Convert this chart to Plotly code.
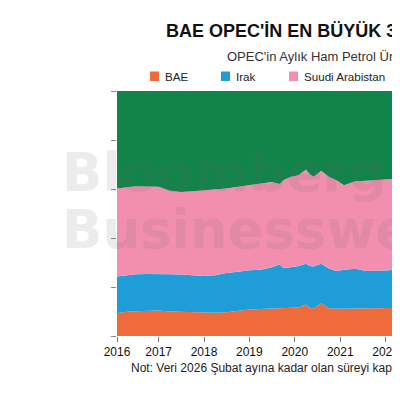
import plotly.graph_objects as go

# Monthly shares of OPEC crude output (%)
dates = [
    "2016-02-01", "2016-04-01", "2016-07-01", "2016-10-01", "2017-01-01",
    "2017-04-01", "2017-07-01", "2017-10-01", "2018-01-01", "2018-04-01",
    "2018-07-01", "2018-10-01", "2019-01-01", "2019-04-01", "2019-07-01",
    "2019-09-01", "2019-10-01", "2019-12-01", "2020-02-01", "2020-04-01",
    "2020-05-01", "2020-06-01", "2020-08-01", "2020-10-01", "2020-12-01",
    "2021-02-01", "2021-05-01", "2021-08-01", "2021-11-01", "2022-02-01",
    "2022-05-01", "2022-08-01", "2022-11-01", "2023-03-01", "2023-07-01",
    "2023-11-01", "2024-03-01", "2024-07-01", "2024-11-01", "2025-03-01",
    "2025-07-01", "2025-11-01", "2026-02-01",
]
bae = [9.3, 9.8, 10.1, 10.3, 10.4, 10.0, 9.8, 9.6, 9.5, 9.5,
       9.7, 10.3, 10.8, 11.0, 11.1, 11.3, 11.2, 11.4, 11.6, 12.9,
       11.5, 11.1, 13.4, 11.3, 11.1, 11.1, 11.2, 11.2, 11.3, 11.4,
       11.5, 11.6, 11.7, 11.8, 12.3, 12.4, 12.4, 12.6, 12.8, 13.0,
       13.4, 13.6, 13.7]
irak = [15.0, 14.8, 15.1, 15.0, 15.0, 15.2, 15.3, 15.3, 15.0, 15.3,
        16.0, 15.9, 16.0, 16.0, 17.0, 17.9, 16.6, 16.7, 17.0, 16.6,
        17.1, 17.3, 16.1, 16.3, 15.4, 15.9, 16.3, 15.3, 15.3, 15.4,
        15.7, 15.7, 15.5, 15.7, 16.6, 16.6, 16.4, 16.2, 15.8, 15.8,
        15.6, 15.6, 15.6]
suudi = [35.9, 36.0, 35.9, 35.7, 35.5, 34.1, 33.7, 34.2, 35.0, 34.8,
         34.5, 34.7, 34.7, 35.2, 34.8, 32.8, 35.8, 36.9, 37.0, 38.5,
         37.4, 36.6, 37.9, 37.4, 37.1, 34.5, 35.7, 36.9, 37.0, 37.2,
         37.1, 37.5, 37.3, 36.9, 33.1, 32.8, 32.8, 32.7, 32.9, 33.0,
         33.6, 33.8, 33.9]
diger = [39.8, 39.4, 38.9, 39.0, 39.1, 40.7, 41.2, 40.9, 40.5, 40.4,
         39.8, 39.1, 38.5, 37.8, 37.1, 38.0, 36.4, 35.0, 34.4, 32.0,
         34.0, 35.0, 32.6, 35.0, 36.4, 38.5, 36.8, 36.6, 36.4, 36.0,
         35.7, 35.2, 35.5, 35.6, 38.0, 38.2, 38.4, 38.5, 38.5, 38.2,
         37.4, 37.0, 36.8]

series_names = ["BAE", "Irak", "Suudi Arabistan", "Diğer"]
series_values = [bae, irak, suudi, diger]
series_colors = ["#F06B3C", "#1E9DD8", "#F38FAE", "#11844A"]

year_ticks = ["2016-02-01", "2017-01-01", "2018-01-01", "2019-01-01",
              "2020-01-01", "2021-01-01", "2022-01-01", "2023-01-01"]
year_labels = ["2016", "2017", "2018", "2019", "2020", "2021", "2022", "2023"]

# pixel layout in screen coords; the page body adds an 8px offset,
# and the original is wider than the window, so its right side is cut
OFF = 8
L, T, B_PX, RIGHT = 117, 91, 336, 400
FIG_W = 400 - OFF
FIG_H = 400 - 2 * OFF
PW = RIGHT - L
PH = B_PX - T


def px_x(px):
    return (px - L) / PW


def px_y(py):
    return (B_PX - py) / PH


fig = go.Figure()
for name, vals, color in zip(series_names, series_values, series_colors):
    fig.add_trace(go.Scatter(
        x=dates, y=vals, name=name,
        mode="lines", stackgroup="one", groupnorm="percent",
        line=dict(width=0, color=color), fillcolor=color,
        showlegend=False,
    ))

fig.update_layout(
    width=FIG_W, height=FIG_H,
    margin=dict(l=L - OFF, r=0, t=T - OFF, b=OFF + FIG_H - B_PX),
    paper_bgcolor="white", plot_bgcolor="white",
    font=dict(family="Liberation Sans, Arial, sans-serif", color="#111"),
)
fig.update_xaxes(
    type="date", range=["2016-02-01", "2022-04-27"],
    tickvals=year_ticks, ticktext=year_labels,
    ticks="outside", ticklen=5, tickcolor="#777", tickwidth=1,
    tickfont=dict(size=12, color="#111"),
    showgrid=False, zeroline=False, showline=False,
)
fig.update_yaxes(
    range=[0, 100], tickvals=[0, 20, 40, 60, 80, 100],
    ticks="outside", ticklen=5, tickcolor="#888", tickwidth=1,
    showticklabels=False, showgrid=False, zeroline=False, showline=False,
)

# hand-drawn legend
legend_x = [150, 221, 289, 412]
for name, color, lx in zip(series_names, series_colors, legend_x):
    fig.add_shape(type="rect", xref="paper", yref="paper",
                  x0=px_x(lx), x1=px_x(lx + 9), y0=px_y(81), y1=px_y(71.5),
                  fillcolor=color, line=dict(width=0))
    fig.add_annotation(text=name, xref="paper", yref="paper",
                       x=px_x(lx + 13), y=px_y(76.5), xanchor="left", yanchor="middle",
                       showarrow=False, font=dict(size=11.6, color="#222"))

fig.add_annotation(text="<b>BAE OPEC'İN EN BÜYÜK 3 ÜRETİCİSİ ARASINDA</b>",
                   xref="paper", yref="paper", x=px_x(164), y=px_y(31.5),
                   xanchor="left", yanchor="middle", showarrow=False,
                   font=dict(size=18, color="#111"))
fig.add_annotation(text="OPEC'in Aylık Ham Petrol Üretimindeki Payları",
                   xref="paper", yref="paper", x=px_x(225), y=px_y(56),
                   xanchor="left", yanchor="middle", showarrow=False,
                   font=dict(size=13, color="#333"))
fig.add_annotation(text="Not: Veri 2026 Şubat ayına kadar olan süreyi kapsıyor.",
                   xref="paper", yref="paper", x=px_x(129), y=px_y(368),
                   xanchor="left", yanchor="middle", showarrow=False,
                   font=dict(size=12, color="#222"))

# watermark
for word, cy in [("Bloomberg", 172), ("Businessweek", 229)]:
    fig.add_annotation(text=f"<b>{word}</b>", xref="paper", yref="paper",
                       x=px_x(60), y=px_y(cy), xanchor="left", yanchor="middle",
                       showarrow=False,
                       font=dict(size=53, family="DejaVu Sans", color="rgba(110,110,110,0.13)"))

fig.write_html("out.html")
